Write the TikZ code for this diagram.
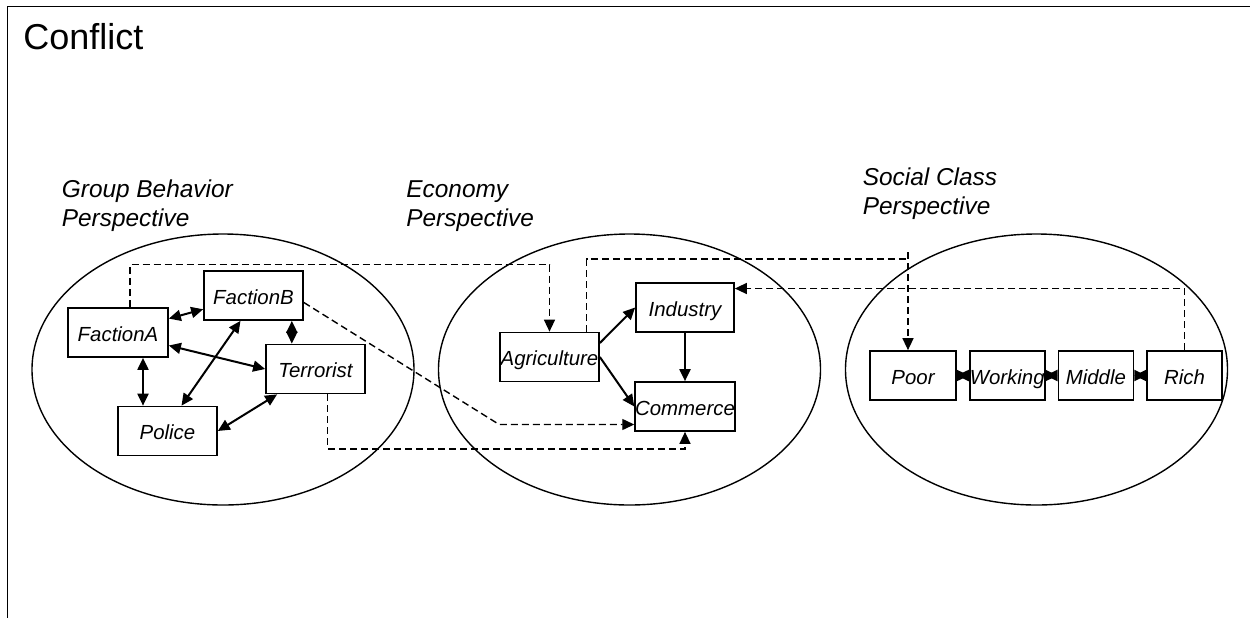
\documentclass[tikz,border=0pt]{standalone}
\usepackage{fontspec}
\setmainfont{Liberation Sans}
\usetikzlibrary{arrows.meta,positioning}

\begin{document}
\begin{tikzpicture}[x=0.5pt,y=-0.5pt,>={Triangle[length=6pt,width=5.5pt]},node distance=6pt,
  box/.style={draw,line width=0.85pt,inner sep=0pt,minimum height=24.5pt,text height=8.5pt,text depth=0pt,font=\itshape\fontsize{10.2}{12}\selectfont},
  persp/.style={anchor=base west,inner sep=0pt,align=left,font=\itshape\fontsize{12.2}{14.5}\selectfont},
  link/.style={line width=1pt},
  dlink/.style={line width=0.7pt,dash pattern=on 3.5pt off 2pt},
  region/.style={line width=0.7pt}]
\useasboundingbox (0,0) rectangle (1250,618);
% frame
\draw[line width=0.8pt] (1250,6.5) -- (7.5,6.5) -- (7.5,618);
\node[anchor=base west,inner sep=0pt,font=\fontsize{18}{20}\selectfont] (title) at (23,49) {Conflict};

% perspectives
\draw[region] (223,369.5) ellipse [x radius=95.5pt,y radius=67.75pt];
\draw[region] (629.5,369.5) ellipse [x radius=95.5pt,y radius=67.75pt];
\draw[region] (1036.5,369.5) ellipse [x radius=95.5pt,y radius=67.75pt];
\node[persp] (gbp) at (61.5,226.5) {Group Behavior\\Perspective};
\node[persp] (ecp) at (406,226.5) {Economy\\Perspective};
\node[persp] (scp) at (862.5,214) {Social Class\\Perspective};

% group behavior
\node[box,minimum width=50pt] (fa) at (118,332.5) {FactionA};
\node[box,minimum width=49.5pt] (fb) at (253.5,295.5) {FactionB};
\node[box,minimum width=49.5pt] (ter) at (315.5,369) {Terrorist};
\node[box,minimum width=49.5pt] (pol) at (167.5,431) {Police};
\draw[link,<->] (fa) -- (fb);
\draw[link,<->] ([yshift=-6.5pt]fa.east) -- (ter.west);
\draw[link,<->] ([xshift=12.5pt]fa.south) -- ([xshift=12.5pt]fa.south |- pol.north);
\draw[link,<->] ([xshift=-6.5pt]fb.south) -- ([xshift=7pt]pol.north);
\draw[link,<->] (pol.east) -- ([xshift=6pt]ter.south west);
\draw[link,<->] ([xshift=-6pt]fb.south east) -- ([xshift=-6pt]fb.south east |- ter.north);

% economy
\node[box,minimum width=49.5pt] (agr) at (549.5,357) {Agriculture};
\node[box,minimum width=49pt] (ind) at (685,307.5) {Industry};
\node[box,minimum width=49pt] (com) at (685,406.5) {Commerce};
\draw[link,->] ([yshift=7pt]agr.east) -- (ind.west);
\draw[link,->] (agr.east) -- (com.west);
\draw[link,->] (ind) -- (com);

% social class
\node[box,minimum width=43pt] (poor) at (913,375.5) {Poor};
\node[box,minimum width=37.5pt,right=of poor] (work) {Working};
\node[box,minimum width=37.5pt,right=of work] (mid) {Middle};
\node[box,minimum width=37.5pt,right=of mid] (rich) {Rich};
\draw[link,<->] (poor) -- (work);
\draw[link,<->] (work) -- (mid);
\draw[link,<->] (mid) -- (rich);

% cross links
\coordinate (agtop) at (908,259);
\coordinate (agup) at (908,252);
\draw[dlink,->] ([xshift=6pt]fa.north) |- ([yshift=33.5pt]agr.north) -- (agr.north);
\draw[dlink,->] ([yshift=-3.5pt]fb.east) -- ([yshift=-9pt]com.west -| agr.west) -- ([yshift=-9pt]com.west);
\draw[dlink,->] ([xshift=6pt]ter.south) |- ([yshift=-8.5pt]com.south) -- (com.south);
\draw[dlink,->] ([xshift=18.5pt]agr.north) |- (agtop) (agup) -- (agup |- poor.north);
\draw[dlink,->] (rich.north) |- ([yshift=9.5pt]ind.east);
\end{tikzpicture}
\end{document}
